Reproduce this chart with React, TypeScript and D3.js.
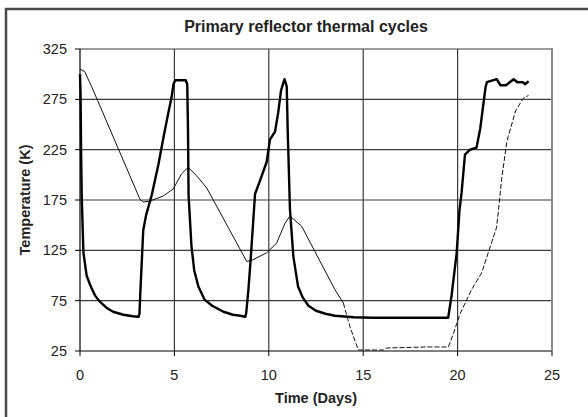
import * as d3 from "d3";

// readings taken off the plot: [day, kelvin]
const reflectorRun: [number, number][] = [
  [0, 300], [0.03, 280], [0.06, 220], [0.09, 180], [0.18, 123], [0.35, 100],
  [0.55, 90], [0.8, 80], [1.05, 74], [1.4, 68], [1.75, 64], [2.3, 61],
  [2.8, 59.5], [3.1, 59], [3.15, 62], [3.2, 85], [3.35, 145], [3.5, 160],
  [3.8, 180], [4.15, 210], [4.45, 240], [4.65, 259], [4.85, 277], [4.95, 290],
  [5.05, 294], [5.6, 294], [5.68, 290], [5.72, 245], [5.75, 180], [5.9, 130],
  [6.05, 105], [6.27, 89], [6.6, 76], [7.0, 70], [7.6, 64], [8.1, 61],
  [8.5, 60], [8.75, 59], [8.8, 62], [8.92, 86], [9.04, 116], [9.27, 181],
  [9.55, 195], [9.89, 213], [10.06, 235], [10.33, 243], [10.5, 262],
  [10.65, 284], [10.83, 295], [10.95, 288], [11.0, 245], [11.12, 166],
  [11.3, 119], [11.55, 89], [11.8, 78], [12.1, 70], [12.5, 65], [13.0, 62],
  [13.5, 60], [14.5, 58.5], [15.5, 58], [19.5, 58], [19.68, 80], [19.95, 122],
  [20.1, 165], [20.21, 182], [20.39, 220], [20.66, 225], [21.0, 227],
  [21.2, 246], [21.48, 287], [21.55, 292], [22.07, 295], [22.27, 289],
  [22.56, 289], [22.97, 295], [23.17, 292], [23.47, 292], [23.57, 290],
  [23.76, 293],
];

const modelSolid: [number, number][] = [
  [0, 305], [0.25, 302.5], [0.63, 287], [0.93, 274],
  [3.18, 175.5], [3.36, 173], [3.71, 174], [4.41, 179], [4.94, 186],
  [5.38, 201], [5.73, 207.5], [6.18, 199], [6.71, 187], [8.83, 114],
  [9.09, 115], [9.88, 122.5], [10.41, 132], [10.86, 152], [11.12, 159],
  [11.74, 149], [13.5, 86], [13.95, 72.6],
];

const modelDashed: [number, number][] = [
  [13.95, 72.6], [14.3, 49], [14.74, 26], [16.07, 26], [16.25, 28],
  [18.36, 29], [19.51, 29], [19.77, 42], [19.95, 52], [20.13, 62],
  [20.74, 86], [21.27, 102.5], [22.06, 147.5], [22.15, 162], [22.33, 195.5],
  [22.6, 232], [22.68, 238], [23.08, 264], [23.48, 276], [23.76, 279],
];

const xTicks = [0, 5, 10, 15, 20, 25];
const yTicks = [25, 75, 125, 175, 225, 275, 325];

const width = 588;
const height = 417;
const margin = { top: 49, right: 36, bottom: 66, left: 80 };
const font = "'Liberation Sans', Arial, sans-serif";

export default function App() {
  const x = d3.scaleLinear().domain([0, 25]).range([margin.left, width - margin.right]);
  const y = d3.scaleLinear().domain([25, 325]).range([height - margin.bottom, margin.top]);

  const line = d3.line<[number, number]>()
    .x((d) => x(d[0]))
    .y((d) => y(d[1]));

  const x0 = x(0);
  const x1 = x(25);
  const yTop = y(325);
  const yBot = y(25);

  return (
    <svg
      width={width}
      height={height}
      style={{ position: "absolute", left: 0, top: 0, background: "#fff" }}
      fontFamily={font}
    >
      <rect x={6} y={9} width={700} height={600} fill="#fff" stroke="#4a4a4a" strokeWidth={2.5} />

      <text x={306} y={32} textAnchor="middle" fontSize={16} fontWeight="bold" fill="#222">
        Primary reflector thermal cycles
      </text>

      {yTicks.map((t) => (
        <g key={`y${t}`}>
          <line x1={x0} x2={x1} y1={y(t)} y2={y(t)} stroke={t === 25 ? "#000" : "#3a3a3a"} strokeWidth={1.2} />
          <line x1={x0 - 5} x2={x0} y1={y(t)} y2={y(t)} stroke="#000" />
          <text x={67} y={y(t) + 5} textAnchor="end" fontSize={14.5} fill="#222">
            {t}
          </text>
        </g>
      ))}

      {xTicks.map((t) => (
        <g key={`x${t}`}>
          {t > 0 && t < 25 && (
            <line x1={x(t)} x2={x(t)} y1={yTop} y2={yBot} stroke="#3a3a3a" strokeWidth={1.2} />
          )}
          <line x1={x(t)} x2={x(t)} y1={yBot} y2={yBot + 5} stroke="#000" />
          <text x={x(t)} y={yBot + 29} textAnchor="middle" fontSize={14.5} fill="#222">
            {t}
          </text>
        </g>
      ))}

      <line x1={x1} x2={x1} y1={yTop - 1} y2={yBot} stroke="#8a8a8a" strokeWidth={2} />
      <line x1={x0} x2={x0} y1={yTop} y2={yBot} stroke="#000" strokeWidth={1.2} />

      <path d={line(modelSolid) ?? ""} fill="none" stroke="#111" strokeWidth={1} />
      <path d={line(modelDashed) ?? ""} fill="none" stroke="#111" strokeWidth={1} strokeDasharray="5,2" />
      <path d={line(reflectorRun) ?? ""} fill="none" stroke="#000" strokeWidth={2.4} strokeLinejoin="round" />

      <text x={(x0 + x1) / 2} y={403} textAnchor="middle" fontSize={14.5} fontWeight="bold" fill="#222">
        Time (Days)
      </text>
      <text
        transform={`translate(30, ${(yTop + yBot) / 2}) rotate(-90)`}
        textAnchor="middle"
        fontSize={14.5}
        fontWeight="bold"
        fill="#222"
      >
        Temperature (K)
      </text>
    </svg>
  );
}
